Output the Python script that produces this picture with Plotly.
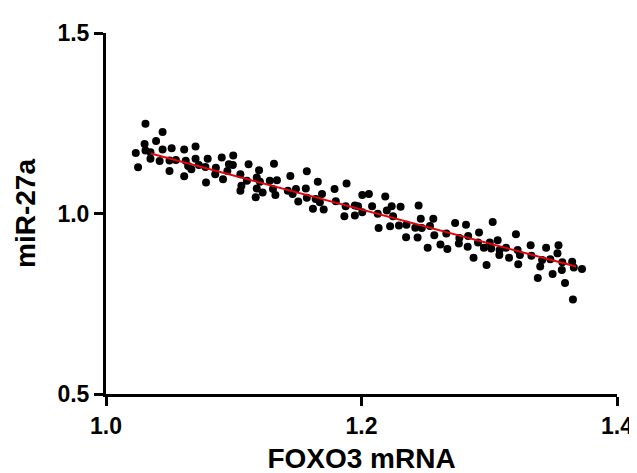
import plotly.graph_objects as go

# pixel-read scatter points converted to data values
px_x = [138.3,155.7,137.3,149,128.3,138.3,143.3,155.7,165,177.7,189.3,143.3,152.7,162.7,169.3,130.7,162.7,179.3,181.7,185,189.3,177.7,192.7,199.3,201.7,200,210,209.3,216,217.3,221.7,223.3,227.7,227.3,235,236,235,
        243.3,241.7,254,251.7,255,251.7,250.7,257.7,269.3,265,272.3,268.3,270.7,286,283.3,291.7,288.3,294,302.7,301.7,302.7,314,311.7,318.3,316,309,320,331,332.3,343.3,342.3,341,
        351.7,355,351.7,359.3,366,359.3,369.3,375,376,382.7,384.3,389.3,390.7,387.7,398.3,396.7,404.3,404,413.3,416.7,415.7,419,420,428.3,426,431.7,432.7,439,445,446,454,458.3,457.7,465,467.3,466.7,
        472.7,478.3,477.3,483.3,486,489.3,490.7,492.3,497.3,499,499.3,506,509,516,517.7,520,518.3,531,531.7,538.3,540.7,542.7,546.7,551,553.3,559.3,558.3,563.3,562.7,566,573.3,575,574,583.3]
px_y = [117.3,125.7,137.7,134.7,146.7,144.3,146,143.3,142,143.3,140.3,152.7,155,154.3,154,161.3,165,154.7,160,163.3,152.7,170.3,159,161,152.7,176.7,161.7,168.3,151.3,173.3,165,158.3,149.3,159,168.3,180,185,
        158.3,175,164.3,171.7,176,182.7,191.7,186.7,157.7,175,174.3,183.3,189.3,170,185,183.3,188.3,196,165.3,182.7,192,176,193.3,188.3,196.7,203.3,204,183.3,195.7,177.7,200.7,210.7,
        200,200.7,210,189.3,188.3,206.7,200.7,208.3,222.7,190.7,205,200.7,210.7,221,201.3,220,219.3,232,222.3,200,232.3,213.3,222.7,220.7,242.7,213.3,230,239.3,228.3,244,217.7,232.7,238.3,219.3,230.7,241.7,
        252.7,227.3,237.3,242.7,260,237.3,243.3,216.7,235,250,245,242.7,252.7,229,245,250,259.3,240,250.7,273.3,261.7,255,242.7,254.3,269.3,240,248.3,257.3,265,278.3,256.7,262.7,295,264]

foxo3_mrna = [round(1.0 + (p - 98) / 1302.5, 4) for p in px_x]
mir_27a = [round(1.0 + (208 - p) / 365.0, 4) for p in px_y]

fit_x = [1.035, 1.368]
fit_y = [1.166, 0.853]

x_ticks = [1.0, 1.2, 1.4]
x_tick_labels = ["1.0", "1.2", "1.4"]
y_ticks = [0.5, 1.0, 1.5]
y_tick_labels = ["0.5", "1.0", "1.5"]

FONT = "Liberation Sans, Arial, sans-serif"

fig = go.Figure()
fig.add_trace(go.Scatter(x=foxo3_mrna, y=mir_27a, mode="markers",
                         marker=dict(color="black", size=8, line=dict(width=0)),
                         showlegend=False, cliponaxis=False))
fig.add_trace(go.Scatter(x=fit_x, y=fit_y, mode="lines",
                         line=dict(color="#e8000b", width=2), showlegend=False))

axis_common = dict(showline=True, linecolor="black", linewidth=3, ticks="outside",
                   ticklen=9, tickwidth=3, tickcolor="black", showgrid=False, zeroline=False,
                   tickfont=dict(family=FONT, size=23, color="black", weight="bold"))

fig.update_xaxes(range=[1.0, 1.4], tickvals=x_ticks, ticktext=x_tick_labels,
                 title=dict(text="FOXO3 mRNA", font=dict(family=FONT, size=28, color="black", weight="bold"), standoff=11),
                 **axis_common)
fig.update_yaxes(range=[0.5, 1.5], tickvals=y_ticks, ticktext=y_tick_labels,
                 title=dict(text="miR-27a", font=dict(family=FONT, size=28, color="black", weight="bold"), standoff=14),
                 **axis_common)

fig.update_layout(width=637, height=473, margin=dict(l=98, r=18, t=25, b=83),
                  plot_bgcolor="white", paper_bgcolor="white")

fig.write_html("out.html")
